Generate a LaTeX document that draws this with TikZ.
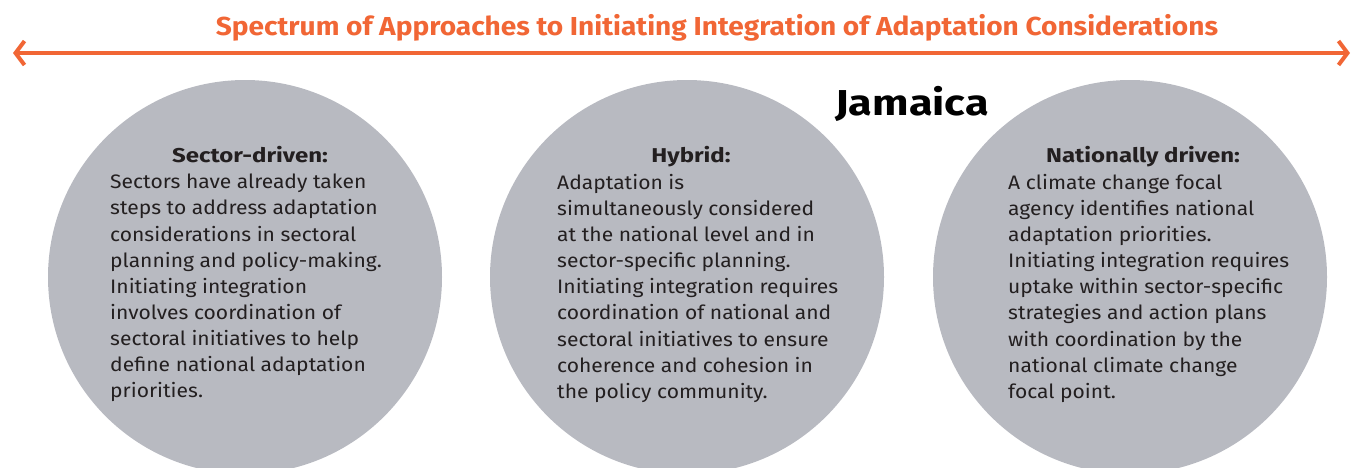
\documentclass[tikz,border=0pt]{standalone}
\usepackage{fontspec}
\setmainfont{Fira Sans}[FakeStretch=1.08]
\newfontfamily\headfont{Fira Sans}[FakeStretch=1.2]
\usepackage{xcolor}
\usetikzlibrary{calc}
\usetikzlibrary{positioning}
\usetikzlibrary{arrows.meta}

\definecolor{spectrumorange}{RGB}{241,102,53}
\definecolor{circlegrey}{RGB}{184,186,193}
\definecolor{bodyink}{RGB}{35,31,32}

\begin{document}
\begin{tikzpicture}[x=1pt,y=-1pt]
		\tikzstyle{approach} = [circle, fill=circlegrey, inner sep=0pt, minimum size=394pt]
		\tikzstyle{heading} = [anchor=base, inner sep=0pt, text=bodyink, font=\headfont\fontsize{20}{26.1}\selectfont\bfseries]
		\tikzstyle{body} = [anchor=north west, inner sep=0pt, align=left, text=bodyink, font=\fontsize{19.5}{26.1}\selectfont]
		\tikzstyle{spectrum} = [draw=spectrumorange, line width=4pt, {Straight Barb[length=9pt,width=24pt]}-{Straight Barb[length=9pt,width=24pt]}]

		\clip (0,0) rectangle (1354,467);

		% spectrum arrow and title
		\coordinate (SpectrumLeft) at (13,53);
		\coordinate (SpectrumRight) at (1350,53);
		\draw[spectrum] (SpectrumLeft) -- (SpectrumRight);
		\node[anchor=base, inner sep=0pt, text=spectrumorange, font=\fontsize{26}{30}\selectfont\bfseries] (Title) at (717,35) {Spectrum of Approaches to Initiating Integration of Adaptation Considerations};

		% three approaches
		\node[approach] (Sector) at (245,277) {};
		\node[approach] (Hybrid) at (687,277) {};
		\node[approach] (National) at (1130,277) {};

		\node[anchor=base, inner sep=0pt, text=black, font=\headfont\fontsize{36}{40}\selectfont\bfseries] (Country) at (912,115) {Jamaica};

		\node[heading] (SectorHead) at (250,162) {Sector-driven:};
		\node[heading] (HybridHead) at (691,162) {Hybrid:};
		\node[heading] (NationalHead) at (1143,162) {Nationally driven:};

		\node[body] (SectorText) at (110,174) {Sectors have already taken\\steps to address adaptation\\considerations in sectoral\\planning and policy-making.\\Initiating integration\\involves coordination of\\sectoral initiatives to help\\define national adaptation\\priorities.};
		\node[body] (HybridText) at (557,174) {Adaptation is\\simultaneously considered\\at the national level and in\\sector-specific planning.\\Initiating integration requires\\coordination of national and\\sectoral initiatives to ensure\\coherence and cohesion in\\the policy community.};
		\node[body] (NationalText) at (1008,174) {A climate change focal\\agency identifies national\\adaptation priorities.\\Initiating integration requires\\uptake within sector-specific\\strategies and action plans\\with coordination by the\\national climate change\\focal point.};

	\end{tikzpicture}
\end{document}
